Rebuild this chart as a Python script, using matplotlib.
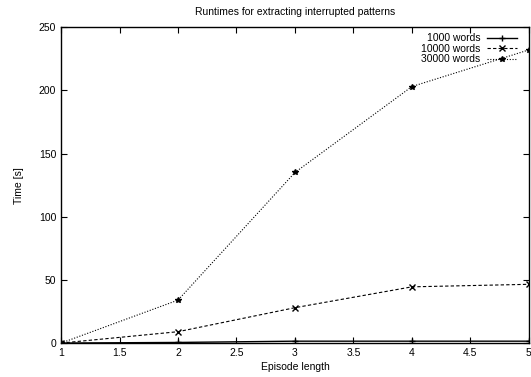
import matplotlib
matplotlib.use("Agg")
import matplotlib.pyplot as plt

plt.rcParams['font.family'] = ['Liberation Sans', 'DejaVu Sans']
plt.rcParams['font.size'] = 7.5

episode_length = [1, 2, 3, 4, 5]
words_1000 = [0, 0.5, 1.5, 1.5, 1.5]
words_10000 = [0, 9, 28, 44.5, 46.5]
words_30000 = [0, 34, 135, 203, 232]

fig = plt.figure(figsize=(5.31, 3.77), dpi=100)
ax = fig.add_axes([0.115, 0.09, 0.881, 0.838])

ax.plot(episode_length, words_1000, color='black', linestyle='-', linewidth=1,
        marker='+', markersize=5, label='1000 words')
ax.plot(episode_length, words_10000, color='black', linestyle=(0, (3, 2)), linewidth=0.8,
        marker='x', markersize=4, label='10000 words')
ax.plot(episode_length, words_30000, color='black', linestyle=(0, (1, 1.5)), linewidth=0.8,
        marker='*', markersize=4, label='30000 words')

ax.set_xlim(1, 5)
ax.set_ylim(0, 250)
ax.set_xticks([1, 1.5, 2, 2.5, 3, 3.5, 4, 4.5, 5])
ax.set_xticklabels(['1', '1.5', '2', '2.5', '3', '3.5', '4', '4.5', '5'])
ax.set_yticks([0, 50, 100, 150, 200, 250])
ax.tick_params(direction='in', top=True, right=True, length=4, width=0.8)
for s in ax.spines.values():
    s.set_linewidth(1)

ax.set_xlabel('Episode length', labelpad=3)
ax.set_ylabel('Time [s]', labelpad=11)
ax.set_title('Runtimes for extracting interrupted patterns', fontsize=7.5, pad=9)

ax.legend(loc='upper right', bbox_to_anchor=(0.988, 1), frameon=False,
          markerfirst=False, handlelength=2.9, labelspacing=0.05,
          borderaxespad=0.2, handletextpad=0.6, fontsize=7.5)

fig.savefig('out.png', dpi=100)
